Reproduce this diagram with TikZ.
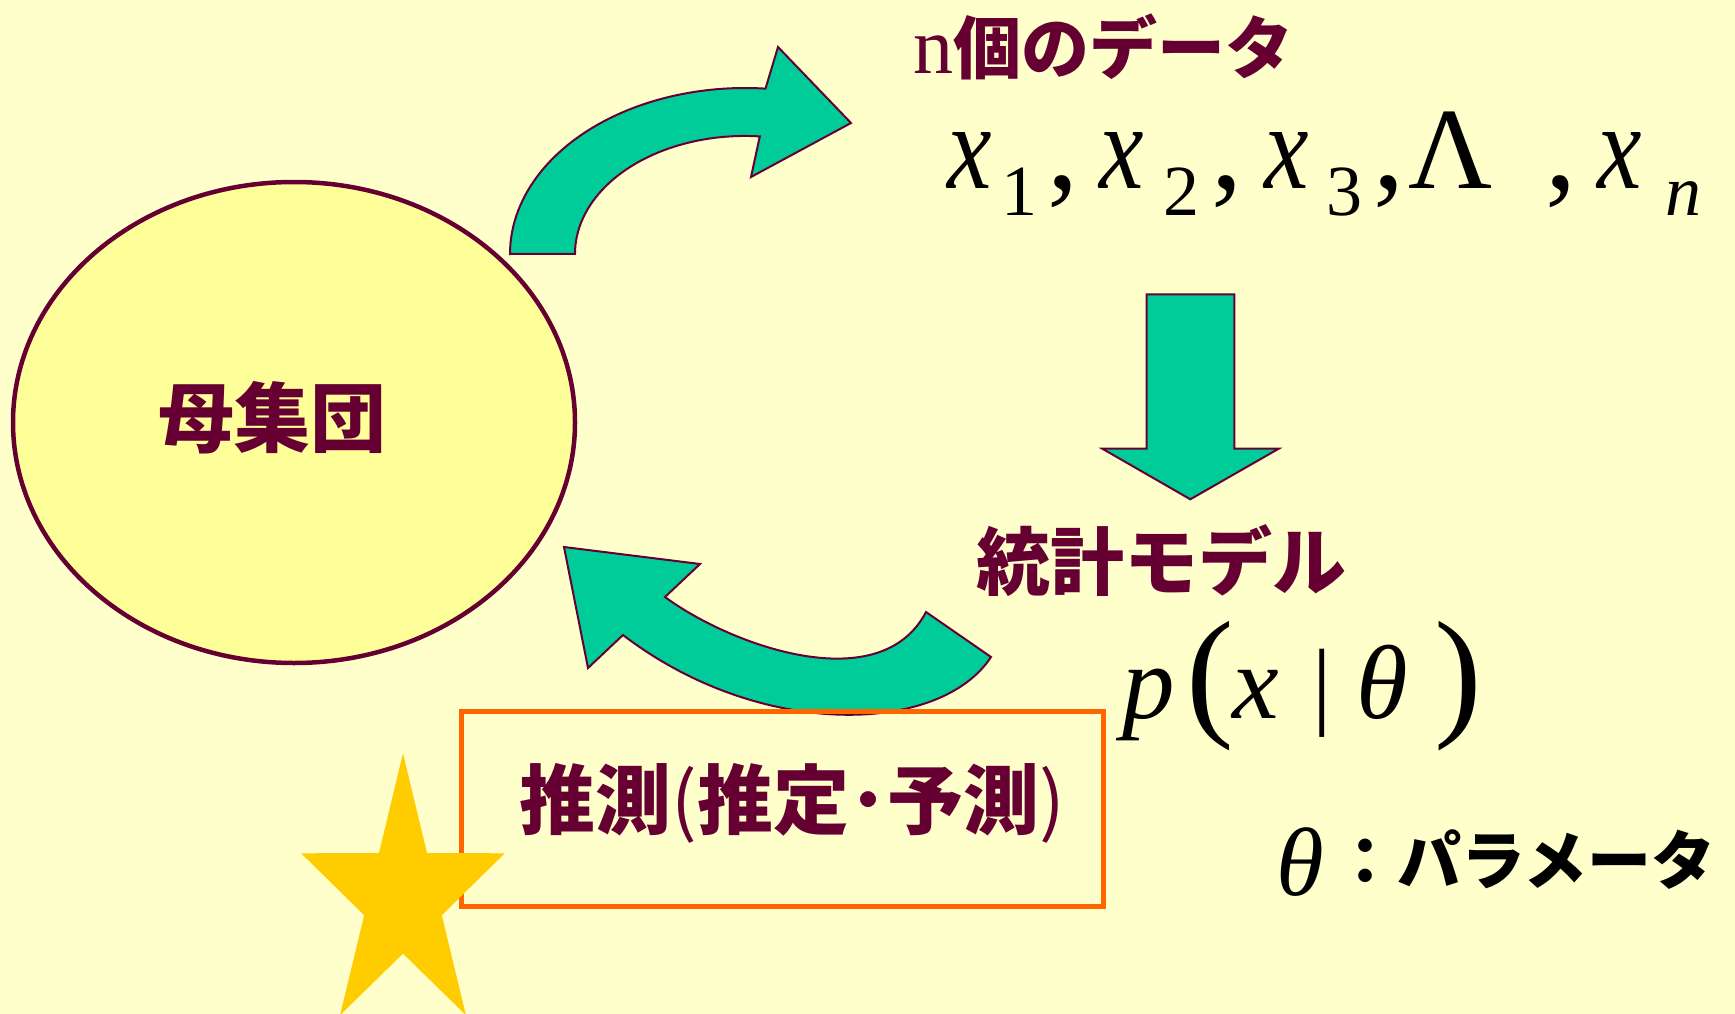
\documentclass[tikz,border=0pt]{standalone}
\usepackage{fontspec}
\usepackage{graphicx}
\usetikzlibrary{shapes.geometric}
\newfontfamily\jp{Noto Sans CJK JP}
\newfontfamily\tms{Liberation Serif}
\newcommand\fsz[1]{\fontsize{#1pt}{#1pt}\selectfont}
\newcommand\nx{\scalebox{0.82}[1]{x}}
\definecolor{bgc}{HTML}{FFFFCC}
\definecolor{popfill}{HTML}{FFFF99}
\definecolor{maroon}{HTML}{660033}
\definecolor{agreen}{HTML}{00CC99}
\definecolor{orng}{HTML}{FF6600}
\definecolor{gold}{HTML}{FFCC00}
\tikzset{
  jptext/.style={inner sep=0pt, font=\jp\bfseries, text=maroon},
  mit/.style={inner sep=0pt, anchor=base west, font=\tms\itshape, text=black},
  mrm/.style={inner sep=0pt, anchor=base west, font=\tms, text=black},
  garrow/.style={fill=agreen, draw=maroon, line width=2pt, line join=miter},
}
\begin{document}
\begin{tikzpicture}[x=1pt,y=-1pt]
\useasboundingbox (0,0) rectangle (1735,1014);
\fill[bgc] (0,0) rectangle (1735,1014);

% population ellipse
\node[draw=maroon, fill=popfill, line width=4.5pt, ellipse, minimum width=562pt, minimum height=481pt, inner sep=0pt, outer sep=0pt] (pop) at (294,422.5) {};
\node[jptext, font=\jp\bfseries\fsz{76}] (popl) at (272.5,418) {母集団};

% top curved arrow
\draw[garrow] (510,254) arc[start angle=180, end angle=275, x radius=235, y radius=166]
  -- (778,47) -- (851,123) -- (751,177) -- (759.8,136.4)
  arc[start angle=275, end angle=180, x radius=170, y radius=118] -- cycle;

% down arrow
\draw[garrow] (1146.7,294.3) -- (1234.3,294.3) -- (1234.3,448.7) -- (1278.7,448.7)
  -- (1190.3,499.3) -- (1102.3,448.7) -- (1146.7,448.7) -- cycle;

% bottom curved arrow
\draw[garrow] (564,547) -- (700,564) -- (665,597)
  .. controls (730,645) and (880,700) .. (926,612) -- (991,657)
  .. controls (940,735) and (760,740) .. (623,635) -- (588,668) -- cycle;

% inference box
\draw[orng, line width=5pt] (461,711) rectangle (1103,906);
\node[jptext, font=\jp\bfseries\fsz{76}] (infer) at (792,803) {推測{\mdseries(}推定･予測{\mdseries)}};

% star
\fill[gold] (403,753.3) -- (427,853) -- (504.8,853.3) -- (441.8,915.2) -- (465.9,1015.1)
  -- (403,953.6) -- (340.1,1015.1) -- (364.2,915.2) -- (301.2,853.3) -- (379,853) -- cycle;

% data title
\node[inner sep=0pt, anchor=base west, text=maroon] (dtitle) at (913,74)
  {{\tms\fsz{80}n}{\jp\bfseries\fsz{68}個のデータ}};

% data sequence
\node[mit] (x1) at (947,188) {\fsz{122}\nx};
\node[mrm] (s1) at (1001,215) {\fsz{72}1};
\node[mrm] (c1) at (1047,188) {\fsz{125},};
\node[mit] (x2) at (1099,188) {\fsz{122}\nx};
\node[mrm] (s2) at (1163,215) {\fsz{72}2};
\node[mrm] (c2) at (1211,188) {\fsz{125},};
\node[mit] (x3) at (1264,188) {\fsz{122}\nx};
\node[mrm] (s3) at (1326,215) {\fsz{72}3};
\node[mrm] (c3) at (1373,188) {\fsz{125},};
\node[mrm] (lam) at (1408,188) {\fsz{116}Λ};
\node[mrm] (c4) at (1545,188) {\fsz{125},};
\node[mit] (xn) at (1597,188) {\fsz{122}\nx};
\node[mit] (sn) at (1665,215) {\fsz{72}n};

% model
\node[jptext, font=\jp\bfseries\fsz{74}] (model) at (1161,561) {統計モデル};
\node[mit] (pp) at (1122,718) {\fsz{105}p};
\node[mrm] (lp) at (1186,720) {\fsz{143}(};
\node[mit] (px) at (1232,718) {\fsz{105}x};
\node[mrm] (bar) at (1312,716) {\fsz{97}|};
\node[mit] (pth) at (1356,718) {\fsz{105}θ};
\node[mrm] (rp) at (1434,720) {\fsz{143})};

% parameter note
\node[mit] (th) at (1276,895) {\fsz{97}θ};
\node[inner sep=0pt, anchor=west, font=\jp\bfseries\fsz{64}, text=black] (param) at (1333,860) {：パラメータ};
\end{tikzpicture}
\end{document}
